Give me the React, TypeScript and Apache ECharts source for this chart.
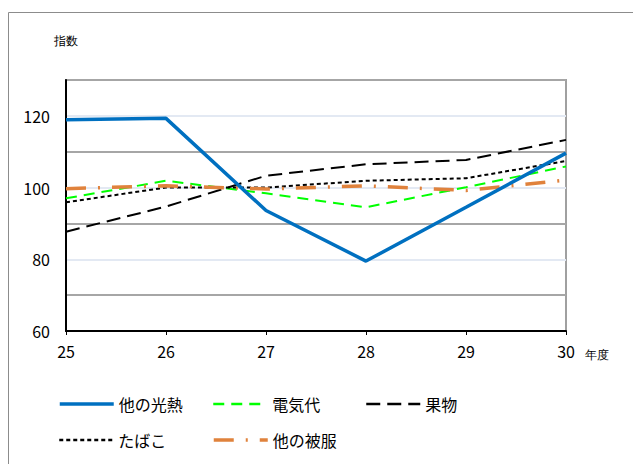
import React, { useEffect, useRef } from "react";
import * as echarts from "echarts";

const years = ["25", "26", "27", "28", "29", "30"];
const hikari = [118.9, 119.3, 93.6, 79.5, 94.5, 109.6];
const denki = [97.0, 101.9, 98.4, 94.5, 100.1, 105.9];
const kudamono = [87.7, 94.7, 103.3, 106.5, 107.7, 113.3];
const tabako = [95.9, 100.0, 100.0, 101.9, 102.6, 107.4];
const hifuku = [99.7, 100.5, 99.6, 100.5, 99.2, 102.1];
const yLabels = [60, 80, 100, 120];

const FONT = "'Noto Sans CJK JP', 'Noto Sans', sans-serif";

export default function App() {
  const ref = useRef<HTMLDivElement>(null);
  useEffect(() => {
    const chart = echarts.init(ref.current!, null, { renderer: "svg" });
    const legendText = { fontSize: 16, color: "#000", fontFamily: FONT };
    const mkLegend = (name: string, left: number, top: number, w: number) => ({
      data: [name],
      left,
      top,
      itemWidth: 54,
      itemHeight: 14,
      itemGap: 0,
      textStyle: legendText,
      selectedMode: false,
      itemStyle: { opacity: 0 },
      lineStyle: { width: w },
    });
    chart.setOption({
      animation: false,
      textStyle: { fontFamily: FONT },
      graphic: [
        {
          type: "rect",
          shape: { x: 8.5, y: 12.5, width: 700, height: 500 },
          style: { fill: "none", stroke: "#8c8c8c", lineWidth: 1 },
        },
        {
          type: "text",
          left: 54,
          top: 35,
          style: { text: "指数", fontSize: 12, fill: "#000", font: `12px ${FONT}` },
        },
        {
          type: "text",
          left: 585,
          top: 349,
          style: { text: "年度", fontSize: 12, fill: "#000", font: `12px ${FONT}` },
        },
      ],
      grid: {
        left: 66,
        right: 67,
        top: 80,
        bottom: 133,
        show: true,
        borderColor: "#a0a0a0",
        borderWidth: 2,
        backgroundColor: "transparent",
      },
      legend: [
        mkLegend("他の光熱", 53, 391, 3.5),
        mkLegend("電気代", 207, 391, 2.5),
        mkLegend("果物", 360, 391, 2.5),
        mkLegend("たばこ", 53, 427, 2.5),
        mkLegend("他の被服", 207, 427, 3.5),
      ],
      xAxis: {
        type: "category",
        data: years,
        boundaryGap: false,
        axisLine: { lineStyle: { color: "#000", width: 2 } },
        axisTick: { show: true, length: 4, lineStyle: { color: "#000" } },
        axisLabel: { fontSize: 16, color: "#000", margin: 12, fontFamily: FONT },
        splitLine: { show: false },
      },
      yAxis: {
        type: "value",
        min: 60,
        max: 130,
        interval: 10,
        axisLine: { show: true, lineStyle: { color: "#000", width: 2 } },
        axisTick: { show: false },
        axisLabel: {
          fontSize: 16,
          color: "#000",
          margin: 16,
          fontFamily: FONT,
          formatter: (v: number) => (yLabels.includes(v) ? String(v) : ""),
        },
        splitLine: {
          show: true,
          lineStyle: { color: ["#e3e9f3", "#a6a6a6"], width: 2 },
        },
      },
      series: [
        {
          name: "他の光熱",
          type: "line",
          data: hikari,
          symbol: "none",
          lineStyle: { color: "#0070C0", width: 3.5, type: "solid" },
          itemStyle: { color: "#0070C0" },
          z: 5,
        },
        {
          name: "電気代",
          type: "line",
          data: denki,
          symbol: "none",
          lineStyle: { color: "#00FF00", width: 2, type: [11, 7] },
          itemStyle: { color: "#00FF00" },
        },
        {
          name: "果物",
          type: "line",
          data: kudamono,
          symbol: "none",
          lineStyle: { color: "#000", width: 2, type: [14, 7] },
          itemStyle: { color: "#000" },
        },
        {
          name: "たばこ",
          type: "line",
          data: tabako,
          symbol: "none",
          lineStyle: { color: "#000", width: 2, type: [4, 3] },
          itemStyle: { color: "#000" },
        },
        {
          name: "他の被服",
          type: "line",
          data: hifuku,
          symbol: "none",
          lineStyle: { color: "#E0823C", width: 3.5, type: [20, 12, 2, 12] },
          itemStyle: { color: "#E0823C" },
        },
      ],
    });
    return () => chart.dispose();
  }, []);
  return (
    <div
      ref={ref}
      style={{ position: "fixed", left: 0, top: 0, width: 633, height: 464, background: "#fff" }}
    />
  );
}
